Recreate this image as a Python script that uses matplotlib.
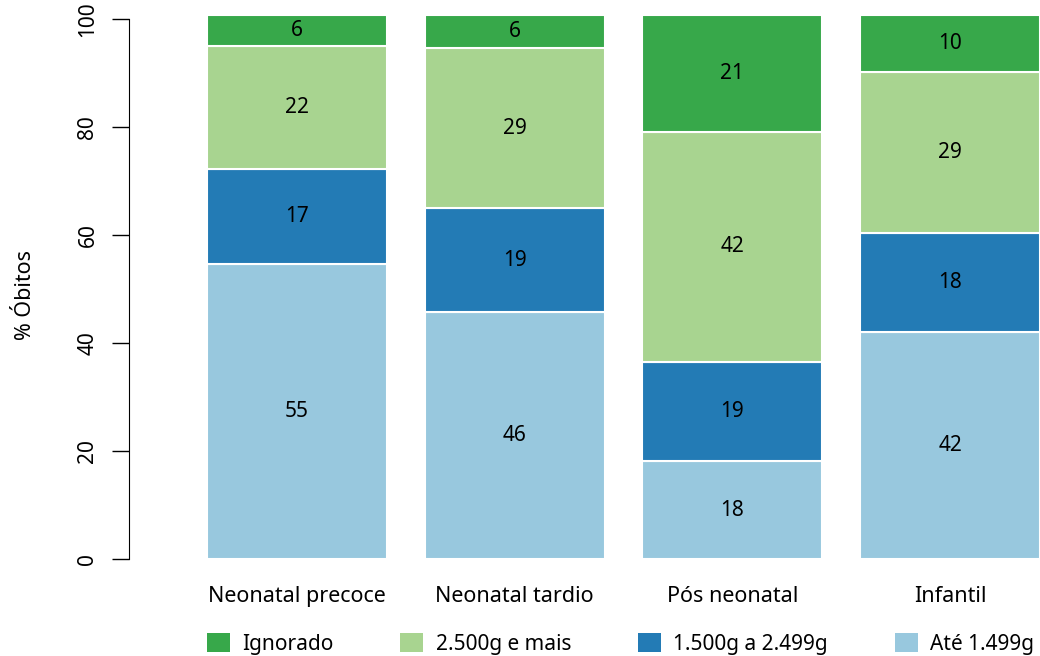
import numpy as np
import matplotlib.pyplot as plt
from matplotlib.patches import Patch

plt.rcParams['font.family'] = ['Noto Sans', 'DejaVu Sans']

# Dados
grupos = ['Neonatal precoce', 'Neonatal tardio', 'Pós neonatal', 'Infantil']
categorias = ['Até 1.499g', '1.500g a 2.499g', '2.500g e mais', 'Ignorado']
ate_1499 = [54.6, 45.7, 18.1, 42.0]
de_1500_2499 = [17.6, 19.2, 18.4, 18.4]
mais_2500 = [22.8, 29.7, 42.6, 29.8]
ignorado = [5.7, 6.1, 21.6, 10.5]
rotulos = [[55, 46, 18, 42],
           [17, 19, 19, 18],
           [22, 29, 42, 29],
           [6, 6, 21, 10]]

cores = ['#98c8de', '#237bb5', '#a8d490', '#37a84a']

fig = plt.figure(figsize=(10.4, 6.56), dpi=100)
ax = fig.add_axes([129 / 1040, 97 / 656, 911 / 1040, 551 / 656])

x = np.arange(len(grupos))
base = np.zeros(len(grupos))
for serie, cor, rot in zip([ate_1499, de_1500_2499, mais_2500, ignorado], cores, rotulos):
    serie = np.array(serie)
    ax.bar(x, serie, bottom=base, width=0.827, color=cor, edgecolor='white', linewidth=1.5)
    for xi, b, v, r in zip(x, base, serie, rot):
        ax.text(xi, b + v / 2, str(r), ha='center', va='center', fontsize=15)
    base = base + serie

ax.set_xlim(-0.772, 3.413)
ax.set_ylim(0, 102)
ax.set_yticks([0, 20, 40, 60, 80, 100])
ax.set_yticklabels(['0', '20', '40', '60', '80', '100'], rotation=90, va='center', fontsize=15)
ax.tick_params(axis='y', length=12, width=1, pad=10)
ax.set_xticks([])
for s in ['top', 'right', 'bottom']:
    ax.spines[s].set_visible(False)
ax.spines['left'].set_bounds(0, 100)

for xi, g in zip(x, grupos):
    ax.text(xi, -7, g, ha='center', va='center', fontsize=15.5, clip_on=False)

fig.text(26 / 1040, 1 - 295 / 656, '% Óbitos', rotation=90, ha='center', va='center', fontsize=15.5)

# Legenda
handles = [Patch(facecolor=c) for c in cores[::-1]]
fig.legend(handles, categorias[::-1], loc='center left', bbox_to_anchor=(207 / 1040, 1 - 644 / 656),
           ncol=4, frameon=False, fontsize=15, handlelength=1.1, handleheight=1.0,
           handletextpad=0.6, columnspacing=3.2, borderaxespad=0, borderpad=0)

plt.savefig('out.png', dpi=100)
